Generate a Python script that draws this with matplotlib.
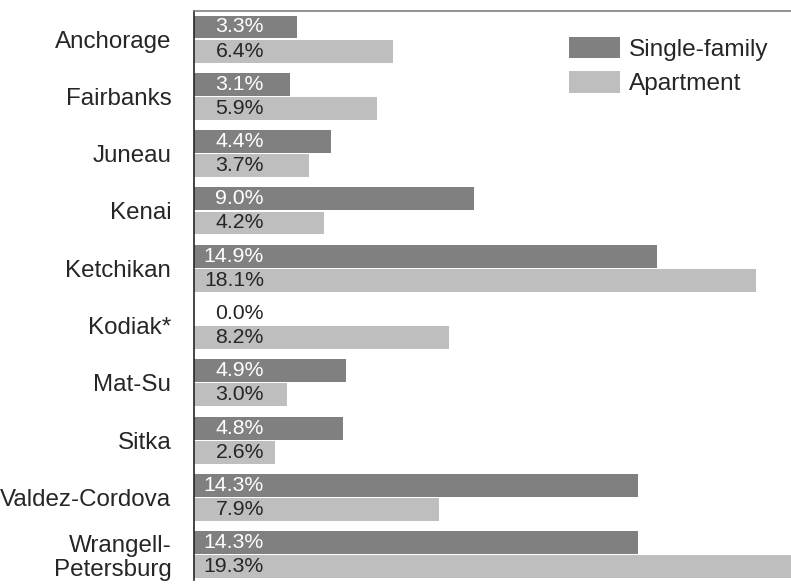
import matplotlib
matplotlib.use("Agg")
import matplotlib.pyplot as plt
import numpy as np
from matplotlib.patches import Patch

plt.rcParams['font.family'] = ['Liberation Sans', 'DejaVu Sans']

categories = ["Anchorage", "Fairbanks", "Juneau", "Kenai", "Ketchikan", "Kodiak*",
              "Mat-Su", "Sitka", "Valdez-Cordova", "Wrangell-\nPetersburg"]
single_family = [3.3, 3.1, 4.4, 9.0, 14.9, 0.0, 4.9, 4.8, 14.3, 14.3]
apartment = [6.4, 5.9, 3.7, 4.2, 18.1, 8.2, 3.0, 2.6, 7.9, 19.3]
series_names = ["Single-family", "Apartment"]

c_single = "#808080"
c_apt = "#BEBEBE"
c_text = "#262626"

fig = plt.figure(figsize=(7.91, 5.84), dpi=100)
ax = fig.add_axes([194/791, 1 - 580/584, 597/791, 569/584])

y = np.arange(len(categories))
h = 0.4
off = 0.21
ax.barh(y - off, single_family, height=h, color=c_single, linewidth=0)
ax.barh(y + off, apartment, height=h, color=c_apt, linewidth=0)

ax.set_xlim(0, 597/31.07)
ax.set_ylim(9.44, -0.489)

lab_dx = 70 * 72 / 100  # points
for i in range(len(categories)):
    sv = single_family[i]
    ax.annotate(f"{sv:.1f}%", xy=(0, y[i] - off), xytext=(lab_dx, 0),
                textcoords='offset points', ha='right', va='center',
                fontsize=15.3, color=('white' if sv > 0 else c_text))
    av = apartment[i]
    ax.annotate(f"{av:.1f}%", xy=(0, y[i] + off), xytext=(lab_dx, 0),
                textcoords='offset points', ha='right', va='center',
                fontsize=15.3, color=c_text)

ax.set_yticks(y)
ax.set_yticklabels(categories, fontsize=17.4, color=c_text, linespacing=1.1)
ax.tick_params(axis='y', length=0, pad=16.3)
ax.set_xticks([])

for s in ['right', 'bottom']:
    ax.spines[s].set_visible(False)
ax.spines['top'].set_color('#7f7f7f')
ax.spines['top'].set_linewidth(1.2)
ax.spines['left'].set_color('#262626')
ax.spines['left'].set_linewidth(1.2)

handles = [Patch(facecolor=c_single, edgecolor='none'), Patch(facecolor=c_apt, edgecolor='none')]
leg = ax.legend(handles, series_names, loc='upper left', bbox_to_anchor=(0.628, 0.955),
                frameon=False, fontsize=17.6, handlelength=2.07, handleheight=1.0,
                handletextpad=0.4, labelspacing=0.4, borderpad=0, borderaxespad=0)
for t in leg.get_texts():
    t.set_color(c_text)

fig.savefig("out.png", dpi=100)
